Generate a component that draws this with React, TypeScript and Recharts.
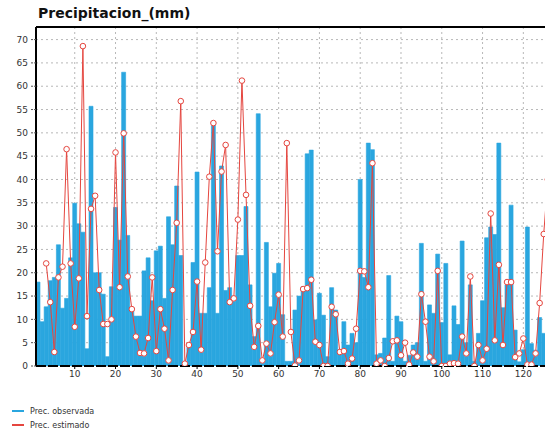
import { Bar, CartesianGrid, ComposedChart, Line, ReferenceLine, XAxis, YAxis } from "recharts";

// Prec. observada, one value per day (mm)
const observada = [
  18, 9.5, 12.7, 18.3, 19, 26, 12.4, 14.5, 23.2, 34.9,
  30.5, 28.7, 3.7, 55.7, 20, 20, 15.4, 2, 17, 34,
  27, 63, 28, 12.4, 10.7, 10.7, 20.4, 23.2, 14, 24.7,
  25.7, 14.5, 32, 26, 38.6, 23.7, 0.5, 4, 22.2, 41.6,
  11.3, 11.3, 16.8, 51.6, 11.3, 42.9, 16.2, 16.8, 15, 23.7,
  23.7, 34.2, 17.4, 6.3, 54.1, 1.5, 26.5, 12.7, 19.9, 22,
  11, 1, 1, 12, 15, 17, 45.5, 46.3, 9.9, 15.6,
  10.9, 2, 16.8, 12, 3.4, 9.5, 4.5, 7, 5, 40,
  19, 47.8, 46.4, 2.4, 2.7, 6, 19.4, 1, 10.7, 9.5,
  1, 2.3, 4.5, 5, 26.3, 1, 13.1, 11.3, 24, 9.3,
  22, 2.4, 12.9, 8.9, 26.8, 5, 17.4, 1, 7, 14,
  27.5, 29.8, 28.2, 47.8, 12.5, 17.4, 34.5, 7.7, 0.9, 3.5,
  29.8, 4.8, 3.4, 10.4, 7, 9, 5, 12,
];

// Prec. estimado
const estimado = [
  null, null, 22, 13.7, 3, 19, 21.3, 46.5, 22, 8.4,
  18.8, 68.6, 10.7, 33.7, 36.5, 16.3, 9, 9, 10, 45.8,
  16.9, 49.9, 19.2, 12.2, 6.3, 2.8, 2.7, 6, 19, 3.2,
  12.2, 8, 1.2, 16.3, 30.7, 56.8, 0.5, 4.5, 7.3, 18.1,
  3.5, 22.2, 40.6, 52.1, 24.6, 41.7, 47.4, 13.7, 14.5, 31.4,
  61.2, 36.7, 12.9, 4.1, 8.6, 1.2, 4.8, 2.7, 9.4, 15.3,
  6.3, 47.8, 7.3, 0.1, 1.2, 16.5, 16.7, 18.5, 5.2, 4.5,
  0, 0, 12.7, 11.1, 3, 3.2, 0.5, 1.6, 8, 20.4,
  20.3, 16.9, 43.5, 0.5, 1.2, 0, 1.7, 5.3, 5.5, 2.3,
  5, 0.3, 2.9, 2, 15.4, 9.5, 2, 1, 20.4, 0,
  0, 0.5, 0.6, 0.5, 6.3, 2.7, 19.2, 0, 4.5, 1.2,
  3.7, 32.7, 5.5, 21.7, 4.5, 18, 18, 1.9, 2.7, 5.9,
  0.3, 0.3, 2.7, 13.5, 28.3, 40, 10, 5,
];

const xTicks = [10, 20, 30, 40, 50, 60, 70, 80, 90, 100, 110, 120];
const yTicks = [0, 5, 10, 15, 20, 25, 30, 35, 40, 45, 50, 55, 60, 65, 70];

const data = observada.map((obs, i) => ({ dia: i + 1, obs, est: estimado[i] }));

const BLUE = "#2aa6df";
const RED = "#e5463f";
const FONT = "'DejaVu Sans', Verdana, sans-serif";

function EstDot(props: any) {
  const { cx, cy, value } = props;
  if (value == null || cx == null || cy == null) return null;
  return <circle cx={cx} cy={cy} r={2.8} fill="#fff" stroke={RED} strokeWidth={1} />;
}

export default function App() {
  return (
    <div
      style={{
        position: "fixed",
        left: 0,
        top: 0,
        width: 545,
        height: 433,
        overflow: "hidden",
        background: "#fff",
        fontFamily: FONT,
      }}
    >
      <div
        style={{
          position: "absolute",
          left: 38,
          top: 5,
          fontSize: 14,
          fontWeight: "bold",
          color: "#111",
        }}
      >
        Precipitacion_(mm)
      </div>

      <div style={{ position: "absolute", left: 0, top: 0 }}>
        <ComposedChart
          width={558}
          height={386}
          data={data}
          margin={{ top: 27, right: 0, left: 0, bottom: 0 }}
          barCategoryGap="0%"
          barGap={0}
        >
          <CartesianGrid stroke="#b8b8b8" strokeDasharray="2 3" />
          <XAxis
            dataKey="dia"
            ticks={xTicks}
            interval={0}
            height={20}
            tick={{ fontSize: 9, fill: "#333", fontFamily: FONT }}
            tickSize={3}
            tickMargin={2}
            tickLine={{ stroke: "#000" }}
            axisLine={{ stroke: "#000", strokeWidth: 2, strokeDasharray: "10 2" }}
          />
          <YAxis
            domain={[0, 72.7]}
            ticks={yTicks}
            width={36}
            interval={0}
            allowDataOverflow
            tick={{ fontSize: 9, fill: "#333", fontFamily: FONT }}
            tickSize={5}
            tickMargin={3}
            tickLine={{ stroke: "#555", strokeDasharray: "2 1" }}
            axisLine={{ stroke: "#000", strokeWidth: 2 }}
          />
          <ReferenceLine y={72.7} stroke="#000" strokeWidth={2} />
          <Bar dataKey="obs" fill={BLUE} stroke={BLUE} strokeWidth={0.6} isAnimationActive={false} />
          <Line
            type="linear"
            dataKey="est"
            stroke={RED}
            strokeWidth={1}
            dot={<EstDot />}
            activeDot={false}
            isAnimationActive={false}
          />
        </ComposedChart>
      </div>

      <div style={{ position: "absolute", left: 12, top: 404, fontSize: 8, color: "#333" }}>
        <div style={{ display: "flex", alignItems: "center", height: 14 }}>
          <span style={{ display: "inline-block", width: 12, height: 2, background: BLUE, marginRight: 6 }} />
          Prec. observada
        </div>
        <div style={{ display: "flex", alignItems: "center", height: 14 }}>
          <span style={{ display: "inline-block", width: 12, height: 2, background: RED, marginRight: 6 }} />
          Prec. estimado
        </div>
      </div>
    </div>
  );
}
